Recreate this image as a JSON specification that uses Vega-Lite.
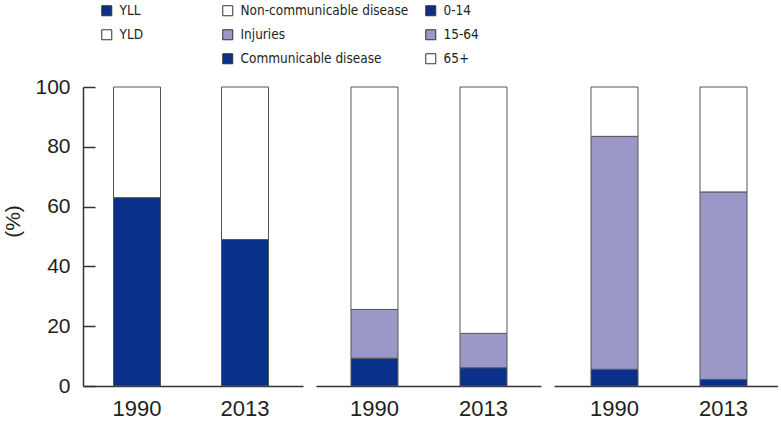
{
  "$schema": "https://vega.github.io/schema/vega-lite/v6.json",
  "background": "white",
  "padding": {"left": 2, "top": 4, "right": 0, "bottom": 0},
  "spacing": 13,
  "bounds": "flush",
  "data": {"values": [
    {"panel": 1, "year": "1990", "category": "YLL", "order": 1, "value": 63.0},
    {"panel": 1, "year": "1990", "category": "YLD", "order": 2, "value": 37.0},
    {"panel": 1, "year": "2013", "category": "YLL", "order": 1, "value": 49.0},
    {"panel": 1, "year": "2013", "category": "YLD", "order": 2, "value": 51.0},
    {"panel": 2, "year": "1990", "category": "Communicable disease", "order": 1, "value": 9.3},
    {"panel": 2, "year": "1990", "category": "Injuries", "order": 2, "value": 16.3},
    {"panel": 2, "year": "1990", "category": "Non-communicable disease", "order": 3, "value": 74.4},
    {"panel": 2, "year": "2013", "category": "Communicable disease", "order": 1, "value": 6.1},
    {"panel": 2, "year": "2013", "category": "Injuries", "order": 2, "value": 11.5},
    {"panel": 2, "year": "2013", "category": "Non-communicable disease", "order": 3, "value": 82.4},
    {"panel": 3, "year": "1990", "category": "0-14", "order": 1, "value": 5.6},
    {"panel": 3, "year": "1990", "category": "15-64", "order": 2, "value": 77.9},
    {"panel": 3, "year": "1990", "category": "65+", "order": 3, "value": 16.5},
    {"panel": 3, "year": "2013", "category": "0-14", "order": 1, "value": 2.2},
    {"panel": 3, "year": "2013", "category": "15-64", "order": 2, "value": 62.7},
    {"panel": 3, "year": "2013", "category": "65+", "order": 3, "value": 35.1}
  ]},
  "config": {
    "view": {"stroke": null},
    "font": "Liberation Sans",
    "axis": {"grid": false, "labelFont": "Liberation Sans", "labelColor": "#231f20", "titleColor": "#231f20", "domainColor": "#333333", "domainWidth": 1.5},
    "axisX": {"title": null, "labelAngle": 0, "ticks": false, "tickSize": 0, "labelPadding": 12, "labelFontSize": 22},
    "legend": {"orient": "none", "title": null, "padding": 0, "symbolType": "square", "symbolSize": 100, "symbolStrokeColor": "#333333", "symbolStrokeWidth": 1, "labelFont": "DejaVu Sans Condensed, Liberation Sans", "labelFontSize": 13.5, "labelColor": "#231f20", "labelLimit": 400, "rowPadding": 9, "labelOffset": 6}
  },
  "resolve": {"scale": {"color": "independent"}},
  "hconcat": [
    {
      "width": 220, "height": 299,
      "transform": [{"filter": "datum.panel == 1"}],
      "mark": {"type": "bar", "width": 47, "stroke": "#555555", "strokeWidth": 1},
      "encoding": {
        "x": {"field": "year", "type": "ordinal", "scale": {"paddingInner": 0, "paddingOuter": 0.0185, "align": 0}},
        "y": {"field": "value", "type": "quantitative", "stack": "zero", "scale": {"domain": [0, 100]},
          "axis": {"title": "(%)", "values": [0, 20, 40, 60, 80, 100], "ticks": true, "tickSize": -12, "tickColor": "#333333", "tickWidth": 1.5, "labelPadding": 25, "labelFontSize": 21, "titleFontSize": 21, "titleFontWeight": "normal", "titleY": 134, "titleX": -60}},
        "color": {"field": "category", "type": "nominal", "scale": {"domain": ["YLL", "YLD"], "range": ["#0a318a", "#ffffff"]},
          "legend": {"legendX": 17, "legendY": -83}},
        "order": {"field": "order", "type": "quantitative"}
      }
    },
    {
      "width": 225, "height": 299,
      "transform": [{"filter": "datum.panel == 2"}],
      "mark": {"type": "bar", "width": 47, "stroke": "#555555", "strokeWidth": 1},
      "encoding": {
        "x": {"field": "year", "type": "ordinal", "scale": {"paddingInner": 0, "paddingOuter": 0.032, "align": 0.57}},
        "y": {"field": "value", "type": "quantitative", "stack": "zero", "scale": {"domain": [0, 100]}, "axis": null},
        "color": {"field": "category", "type": "nominal", "scale": {"domain": ["Non-communicable disease", "Injuries", "Communicable disease"], "range": ["#ffffff", "#9b98c7", "#0a318a"]},
          "legend": {"legendX": -95, "legendY": -83}},
        "order": {"field": "order", "type": "quantitative"}
      }
    },
    {
      "width": 224, "height": 299,
      "transform": [{"filter": "datum.panel == 3"}],
      "mark": {"type": "bar", "width": 47, "stroke": "#555555", "strokeWidth": 1},
      "encoding": {
        "x": {"field": "year", "type": "ordinal", "scale": {"paddingInner": 0, "paddingOuter": 0.0275, "align": 1}},
        "y": {"field": "value", "type": "quantitative", "stack": "zero", "scale": {"domain": [0, 100]}, "axis": null},
        "color": {"field": "category", "type": "nominal", "scale": {"domain": ["0-14", "15-64", "65+"], "range": ["#0a318a", "#9b98c7", "#ffffff"]},
          "legend": {"legendX": -130, "legendY": -83}},
        "order": {"field": "order", "type": "quantitative"}
      }
    }
  ]
}
